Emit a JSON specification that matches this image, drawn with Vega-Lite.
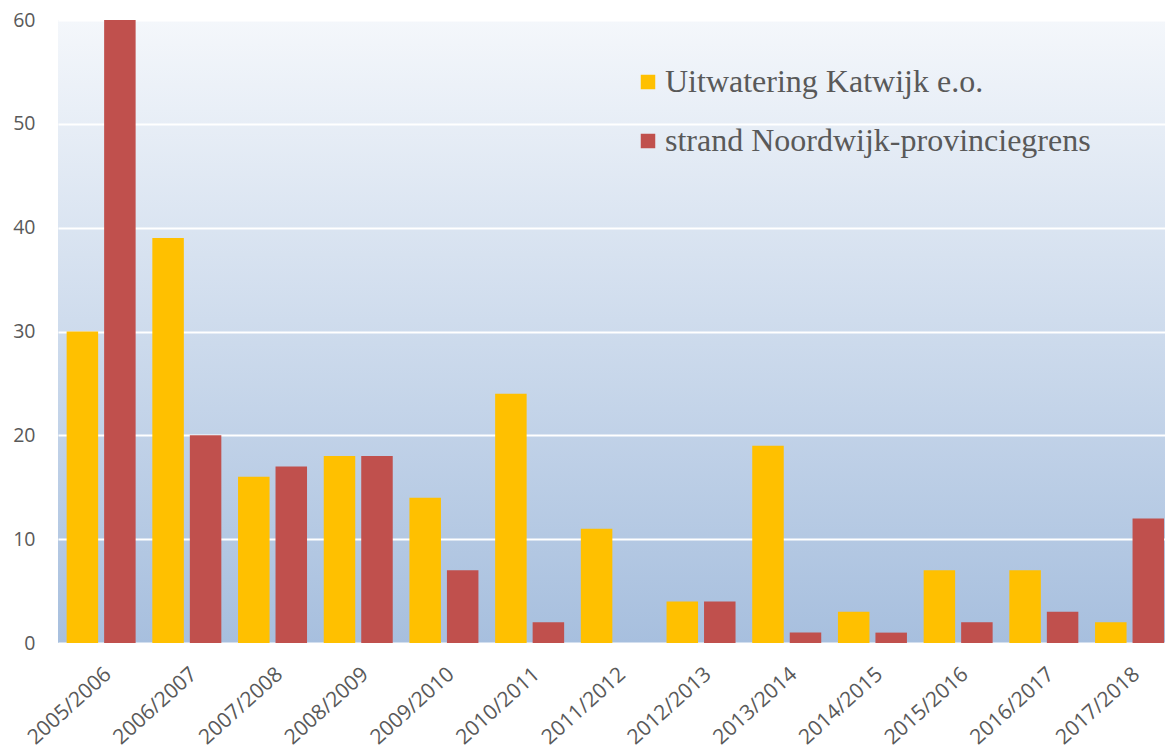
{
  "$schema": "https://vega.github.io/schema/vega-lite/v6.json",
  "width": 1107,
  "height": 623,
  "autosize": {"type": "none"},
  "padding": {"left": 58, "top": 20, "right": 0, "bottom": 106},
  "background": "white",
  "config": {
    "view": {
      "stroke": null,
      "fill": {"gradient": "linear", "x1": 0, "y1": 0, "x2": 0, "y2": 1,
        "stops": [{"offset": 0, "color": "#F4F7FB"}, {"offset": 1, "color": "#A7BFDE"}]}
    },
    "axis": {"labelFont": "Open Sans", "labelColor": "#595959", "labelFontSize": 19.5, "domain": false, "ticks": false, "title": null}
  },
  "data": {
    "values": [
      {"season": "2005/2006", "series": "Uitwatering Katwijk e.o.", "value": 30},
      {"season": "2005/2006", "series": "strand Noordwijk-provinciegrens", "value": 60},
      {"season": "2006/2007", "series": "Uitwatering Katwijk e.o.", "value": 39},
      {"season": "2006/2007", "series": "strand Noordwijk-provinciegrens", "value": 20},
      {"season": "2007/2008", "series": "Uitwatering Katwijk e.o.", "value": 16},
      {"season": "2007/2008", "series": "strand Noordwijk-provinciegrens", "value": 17},
      {"season": "2008/2009", "series": "Uitwatering Katwijk e.o.", "value": 18},
      {"season": "2008/2009", "series": "strand Noordwijk-provinciegrens", "value": 18},
      {"season": "2009/2010", "series": "Uitwatering Katwijk e.o.", "value": 14},
      {"season": "2009/2010", "series": "strand Noordwijk-provinciegrens", "value": 7},
      {"season": "2010/2011", "series": "Uitwatering Katwijk e.o.", "value": 24},
      {"season": "2010/2011", "series": "strand Noordwijk-provinciegrens", "value": 2},
      {"season": "2011/2012", "series": "Uitwatering Katwijk e.o.", "value": 11},
      {"season": "2011/2012", "series": "strand Noordwijk-provinciegrens", "value": 0},
      {"season": "2012/2013", "series": "Uitwatering Katwijk e.o.", "value": 4},
      {"season": "2012/2013", "series": "strand Noordwijk-provinciegrens", "value": 4},
      {"season": "2013/2014", "series": "Uitwatering Katwijk e.o.", "value": 19},
      {"season": "2013/2014", "series": "strand Noordwijk-provinciegrens", "value": 1},
      {"season": "2014/2015", "series": "Uitwatering Katwijk e.o.", "value": 3},
      {"season": "2014/2015", "series": "strand Noordwijk-provinciegrens", "value": 1},
      {"season": "2015/2016", "series": "Uitwatering Katwijk e.o.", "value": 7},
      {"season": "2015/2016", "series": "strand Noordwijk-provinciegrens", "value": 2},
      {"season": "2016/2017", "series": "Uitwatering Katwijk e.o.", "value": 7},
      {"season": "2016/2017", "series": "strand Noordwijk-provinciegrens", "value": 3},
      {"season": "2017/2018", "series": "Uitwatering Katwijk e.o.", "value": 2},
      {"season": "2017/2018", "series": "strand Noordwijk-provinciegrens", "value": 12}
    ]
  },
  "mark": {"type": "bar"},
  "encoding": {
    "x": {
      "field": "season", "type": "nominal", "sort": null,
      "scale": {"paddingInner": 0.195, "paddingOuter": 0.056, "align": 0.9},
      "axis": {"labelAngle": -42, "labelPadding": 20, "labelFontSize": 21, "grid": false}
    },
    "xOffset": {
      "field": "series", "type": "nominal",
      "sort": ["Uitwatering Katwijk e.o.", "strand Noordwijk-provinciegrens"],
      "scale": {"paddingInner": 0.16, "paddingOuter": 0}
    },
    "y": {
      "field": "value", "type": "quantitative",
      "scale": {"domain": [0, 60], "nice": false},
      "axis": {"values": [0, 10, 20, 30, 40, 50, 60], "grid": true, "gridColor": "white", "gridWidth": 2, "labelPadding": 23}
    },
    "color": {
      "field": "series", "type": "nominal",
      "scale": {"domain": ["Uitwatering Katwijk e.o.", "strand Noordwijk-provinciegrens"], "range": ["#FFC000", "#C0504D"]},
      "legend": {
        "orient": "none", "legendX": 574, "legendY": 46, "title": null,
        "symbolType": "square", "symbolSize": 210, "symbolStrokeWidth": 0, "symbolOpacity": 1,
        "labelFont": "Liberation Serif", "labelFontSize": 32, "labelColor": "#595959",
        "labelOffset": 1, "labelLimit": 0, "rowPadding": 27
      }
    }
  }
}
